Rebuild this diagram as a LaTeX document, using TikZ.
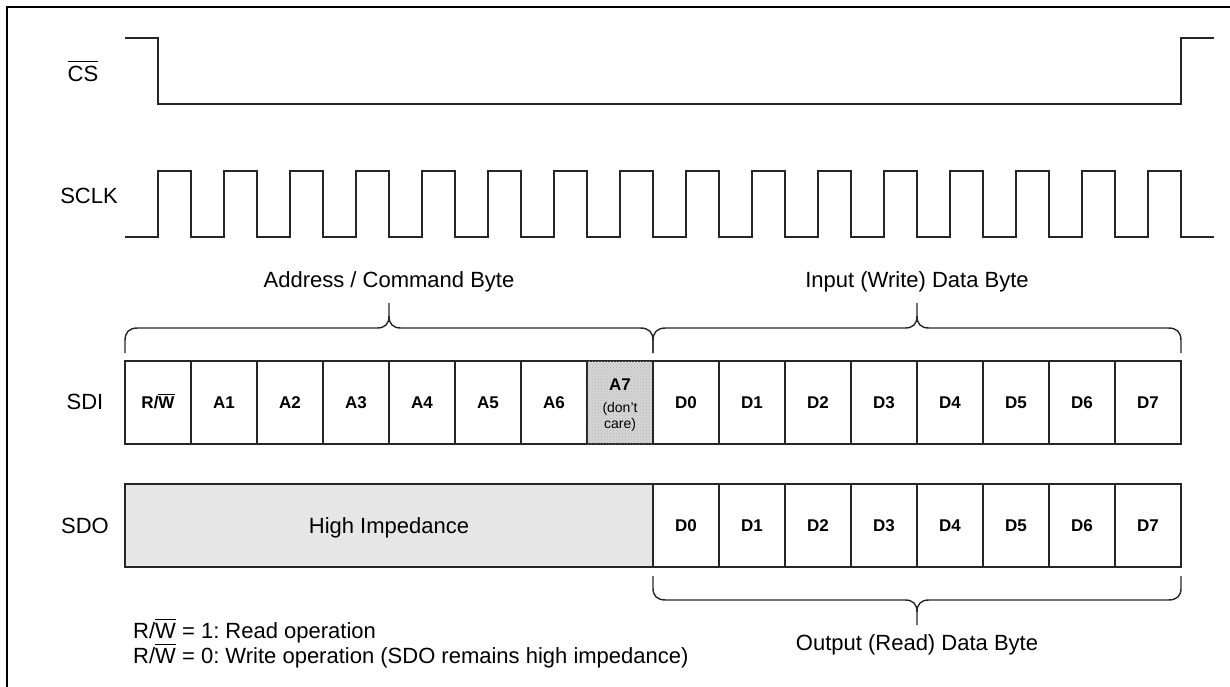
\documentclass[tikz,border=0pt]{standalone}
\usepackage{fontspec}
\setmainfont{Liberation Sans}
\usetikzlibrary{patterns}
\newcommand\ovl[2][3pt]{\vbox{\hrule height 1.1pt\kern#1\hbox{#2}}}
\definecolor{hizgray}{RGB}{230,230,230}
\definecolor{dcgray}{RGB}{214,214,214}
\frenchspacing
\begin{document}
\begin{tikzpicture}[x=1pt,y=-1pt,
  wave/.style={line width=1.4pt,black!85,line join=miter},
  bracepath/.style={line width=1.4pt,black!85},
  cell/.style={draw=black!85,line width=1.4pt,minimum width=66pt,minimum height=83pt,inner sep=0pt},
  celltext/.style={font=\bfseries\fontsize{17}{20}\selectfont,anchor=base,inner sep=0pt},
  lab/.style={font=\fontsize{22}{25}\selectfont,anchor=base,inner sep=0pt},
  small/.style={font=\fontsize{14}{16}\selectfont,anchor=base,inner sep=0pt}]
\useasboundingbox (0,0) rectangle (1230,687);
% frame
\draw[line width=2.6pt] (7,687) -- (7,7) -- (1230,7);
% signal names
\node[lab] (cs) at (83,82) {\ovl[4.5pt]{CS}};
\node[lab] (sclk) at (89,204) {SCLK};
\node[lab] (sdi) at (85,409) {SDI};
\node[lab] (sdo) at (85,533) {SDO};
% CS waveform
\draw[wave] (125,38) -- (158,38) -- (158,104) -- (1181,104) -- (1181,38) -- (1214,38);
% SCLK waveform
\draw[wave] (125,237) foreach \k in {0,...,15}{ -- ({158+66*\k},237) -- ({158+66*\k},171) -- ({191+66*\k},171) -- ({191+66*\k},237) } -- (1214,237);
% byte labels
\node[lab] (acb) at (389,287) {Address / Command Byte};
\node[lab] (iwb) at (917,287) {Input (Write) Data Byte};
% upper braces
\draw[bracepath] (125,353) -- (125,341) .. controls (125,332) and (129,328) .. (138,328) -- (377,328) .. controls (385,328) and (389,324) .. (389,316) -- (389,303);
\draw[bracepath] (389,316) .. controls (389,324) and (393,328) .. (401,328) -- (640,328) .. controls (649,328) and (653,332) .. (653,341) -- (653,353);
\draw[bracepath] (653,353) -- (653,341) .. controls (653,332) and (657,328) .. (666,328) -- (905,328) .. controls (913,328) and (917,324) .. (917,316) -- (917,303);
\draw[bracepath] (917,316) .. controls (917,324) and (921,328) .. (929,328) -- (1168,328) .. controls (1177,328) and (1181,332) .. (1181,341) -- (1181,353);
% SDI cells
\node[cell] (i0) at (158,402.5) {};
\node[celltext] at (158,408.5) {R/\ovl[2pt]{W}};
\foreach \lab [count=\i] in {A1,A2,A3,A4,A5,A6}{
  \node[cell] (i\i) at ({158+66*\i},402.5) {};
  \node[celltext] at ({158+66*\i},408.5) {\lab};
}
\node[cell,fill=dcgray,postaction={pattern=crosshatch dots,pattern color=gray!60}] (i7) at (620,402.5) {};
\node[celltext] at (620,390) {A7};
\node[small] at (620,412) {(don't};
\node[small] at (620,428) {care)};
\foreach \lab [count=\i from 8] in {D0,D1,D2,D3,D4,D5,D6,D7}{
  \node[cell] (i\i) at ({158+66*\i},402.5) {};
  \node[celltext] at ({158+66*\i},408.5) {\lab};
}
% SDO row
\node[cell,fill=hizgray,minimum width=528pt] (hiz) at (389,525.5) {};
\node[lab] at (389,533) {High Impedance};
\foreach \lab [count=\i from 8] in {D0,D1,D2,D3,D4,D5,D6,D7}{
  \node[cell] (o\i) at ({158+66*\i},525.5) {};
  \node[celltext] at ({158+66*\i},531.5) {\lab};
}
% lower brace
\draw[bracepath] (653,576) -- (653,588) .. controls (653,596) and (657,600) .. (666,600) -- (905,600) .. controls (913,600) and (917,604) .. (917,612) -- (917,625);
\draw[bracepath] (917,612) .. controls (917,604) and (921,600) .. (929,600) -- (1168,600) .. controls (1177,600) and (1181,596) .. (1181,588) -- (1181,576);
\node[lab] (ordb) at (917,650) {Output (Read) Data Byte};
% notes
\node[lab,anchor=base west] (n1) at (133,638) {R/\ovl[3pt]{W} = 1: Read operation};
\node[lab,anchor=base west] (n2) at (133,663) {R/\ovl[3pt]{W} = 0: Write operation (SDO remains high impedance)};
\end{tikzpicture}
\end{document}
